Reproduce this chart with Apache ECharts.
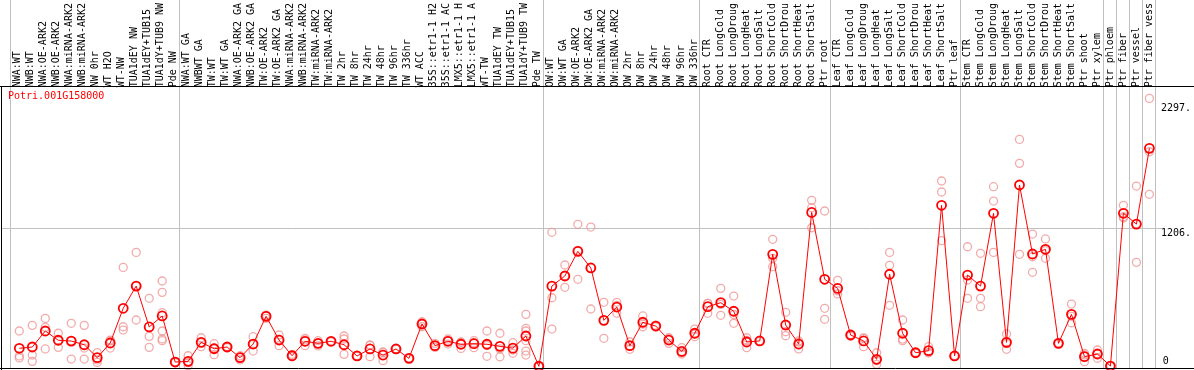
<!DOCTYPE html>
<html><head><meta charset="utf-8">
<script src="https://cdn.jsdelivr.net/npm/echarts@6/dist/echarts.min.js"></script>
<style>html,body{margin:0;padding:0;background:#fff}#c{width:1194px;height:370px}</style>
</head><body><div id="c"></div>
<script>
const geneId = 'Potri.001G158000';
const categories = [
 'NWA:WT','NWB:WT','NWA:OE-ARK2','NWB:OE-ARK2','NWA:miRNA-ARK2','NWB:miRNA-ARK2','NW 0hr','WT H2O','WT-NW','TUA1dEY NW','TUA1dEY+TUB15','TUA1dY+TUB9 NW','Pde NW',
 'NWA:WT GA','NWBWT GA','TW:WT','TW:WT GA','NWA:OE-ARK2 GA','NWB:OE-ARK2 GA','TW:OE-ARK2','TW:OE-ARK2 GA','NWA:miRNA-ARK2','NWB:miRNA-ARK2','TW:miRNA-ARK2','TW:miRNA-ARK2',
 'TW 2hr','TW 8hr','TW 24hr','TW 48hr','TW 96hr','TW 336hr','WT ACC','35S::etr1-1 H2','35S::etr1-1 AC','LMX5::etr1-1 H','LMX5::etr1-1 A','WT-TW','TUA1dEY TW','TUA1dEY+TUB15','TUA1dY+TUB9 TW','Pde TW',
 'OW:WT','OW:WT GA','OW:OE-ARK2','OW:OE-ARK2 GA','OW:miRNA-ARK2','OW:miRNA-ARK2','OW 2hr','OW 8hr','OW 24hr','OW 48hr','OW 96hr','OW 336hr',
 'Root CTR','Root LongCold','Root LongDroug','Root LongHeat','Root LongSalt','Root ShortCold','Root ShortDrou','Root ShortHeat','Root ShortSalt','Ptr root',
 'Leaf CTR','Leaf LongCold','Leaf LongDroug','Leaf LongHeat','Leaf LongSalt','Leaf ShortCold','Leaf ShortDrou','Leaf ShortHeat','Leaf ShortSalt','Ptr leaf',
 'Stem CTR','Stem LongCold','Stem LongDroug','Stem LongHeat','Stem LongSalt','Stem ShortCold','Stem ShortDrou','Stem ShortHeat','Stem ShortSalt','Ptr shoot',
 'Ptr xylem','Ptr phloem','Ptr fiber','Ptr vessel','Ptr fiber vess'
];
const means = [
 159,170,310,229,222,190,77,205,508,702,345,441,39,
 45,211,155,170,77,196,438,231,94,220,202,220,190,92,153,100,153,71,371,182,220,194,199,194,176,160,266,2,
 702,790,1005,860,403,519,182,386,353,231,132,290,
 522,557,482,214,223,979,362,196,1345,761,
 682,275,223,63,805,290,120,138,1407,92,
 798,702,1337,211,1584,982,1023,202,455,86,
 109,4,1337,1243,1904
];
const replicates = [
 [310,92,75],[359,100,45],[420,342,153],[290,167,230],[377,65,224],[359,161,65],[121,57,36],[231,161,223],[865,347,318],[996,406,704],[595,263,167],[746,647,470,310,240,225],[40,35,42],
 [94,7,34],[251,173,209],[199,103,163],[175,165,170],[94,57,80],[260,135,193],[449,420,445],[275,182,236],[106,86,90],[246,182,232],[225,180,201],[222,218,220],[266,240,106],[95,88,92],[185,86,188],[127,51,122],[155,150,154],[71,70,72],[391,347,375],[202,167,177],[240,196,224],[214,158,210],[225,164,208],[310,89,183],[290,85,153],[208,144,115],[455,333,310,225,135,100],[3,0,2],
 [1171,600,327],[886,691,793],[1241,761,1013],[1217,502,861],[560,246,403],[560,464,533],[216,150,180],[441,347,370],[360,345,353],[251,202,240],[164,109,123],[327,260,283],
 [551,464,551],[682,447,542],[615,377,454],[251,164,227],[225,220,224],[1110,944,871],[473,304,269],[223,153,212],[1450,1386,1211],[1357,508,412],
 [752,633,661],[280,265,275],[246,173,250],[120,19,50],[996,883,534],[406,225,239],[125,115,120],[173,120,121],[1619,1523,1098],[95,88,93],
 [1045,755,595],[988,595,522],[1569,1444,996],[284,150,199],[1982,1773,979],[1156,958,822],[1113,944,1012],[205,198,203],[545,382,438],[115,42,101],
 [144,72,111],[6,2,4],[1407,1307,1297],[1575,909,1245],[2340,1874,1503]
];
const yTickValues = [1206, 2297];
const yZeroTick = [0];
const groupStarts = [0,13,41,53,63,73,84,85,86,87];

const yMax = 2448;
const plotW = 1144.7;
const FONT = 'DejaVu Sans Mono';

const repData = [];
replicates.forEach((r, i) => r.forEach(v => repData.push([i, v])));

const chart = echarts.init(document.getElementById('c'), null, {renderer: 'canvas'});
const option = {
  animation: false,
  backgroundColor: '#fff',
  textStyle: {fontFamily: FONT},
  title: {text: geneId, left: 8, top: 91, textStyle: {color: '#ff0000', fontSize: 10, fontWeight: 'normal', fontFamily: FONT}, padding: 0},
  grid: [
    {left: 12.8, width: plotW, top: 86, height: 280.5},
    {left: 10.3, width: plotW, top: 0, height: 368},
    {left: 11, width: plotW, top: 86, height: 280.5}
  ],
  xAxis: [
    {type: 'category', gridIndex: 0, data: categories, boundaryGap: true, show: true,
     axisLine: {show: false}, axisTick: {show: false}, axisLabel: {show: false}, splitLine: {show: false}},
    {type: 'category', gridIndex: 1, data: categories, boundaryGap: true,
     axisLine: {show: false}, axisTick: {show: false}, axisLabel: {show: false},
     splitLine: {show: true, interval: (idx) => groupStarts.indexOf(idx) >= 0, lineStyle: {color: '#c0c0c0', width: 1}}},
    {type: 'category', gridIndex: 2, data: categories, boundaryGap: true, position: 'top',
     axisLine: {show: false}, axisTick: {show: false}, splitLine: {show: false},
     axisLabel: {show: true, interval: 0, rotate: 90, margin: 3, color: '#000', fontSize: 10, fontFamily: FONT}}
  ],
  yAxis: [
    {type: 'value', gridIndex: 0, min: 0, max: yMax, position: 'right',
     axisLine: {show: false}, axisTick: {show: false}, splitLine: {show: false},
     axisLabel: {show: true, customValues: yTickValues, formatter: v => v + '.', verticalAlign: 'top', margin: 5, color: '#000', fontSize: 10, fontFamily: FONT}},
    {type: 'value', gridIndex: 1, min: 0, max: 1, show: false},
    {type: 'value', gridIndex: 2, min: 0, max: yMax, position: 'right',
     axisLine: {show: false}, axisTick: {show: false}, splitLine: {show: false},
     axisLabel: {show: true, customValues: yZeroTick, formatter: v => String(v), verticalAlign: 'bottom', margin: 7, color: '#000', fontSize: 10, fontFamily: FONT}}
  ],
  series: [
    {type: 'scatter', xAxisIndex: 0, yAxisIndex: 0, data: repData, symbol: 'circle', symbolSize: 8,
     itemStyle: {color: 'rgba(0,0,0,0)', borderColor: '#ef9696', borderWidth: 1.3}, z: 2, silent: true},
    {type: 'line', xAxisIndex: 0, yAxisIndex: 0, data: means, symbol: 'circle', symbolSize: 9, showAllSymbol: true,
     lineStyle: {color: '#ff0000', width: 1}, itemStyle: {color: 'rgba(0,0,0,0)', borderColor: '#ff0000', borderWidth: 1.8}, z: 3, silent: true}
  ]
};
chart.setOption(option);
const yRef = Math.round(chart.convertToPixel({yAxisIndex: 0}, yTickValues[0])) + 0.5;
chart.setOption({graphic: [
  {type: 'line', shape: {x1: 1, y1: yRef, x2: 1162, y2: yRef}, style: {stroke: '#c0c0c0', lineWidth: 1}, z: 0, silent: true},
  {type: 'line', shape: {x1: 0, y1: 86.5, x2: 1194, y2: 86.5}, style: {stroke: '#000', lineWidth: 1}, z: 5, silent: true},
  {type: 'line', shape: {x1: 1.5, y1: 86, x2: 1.5, y2: 370}, style: {stroke: '#000', lineWidth: 1}, z: 5, silent: true},
  {type: 'line', shape: {x1: 0, y1: 368.5, x2: 1194, y2: 368.5}, style: {stroke: '#000', lineWidth: 1}, z: 5, silent: true}
]});
</script></body></html>
